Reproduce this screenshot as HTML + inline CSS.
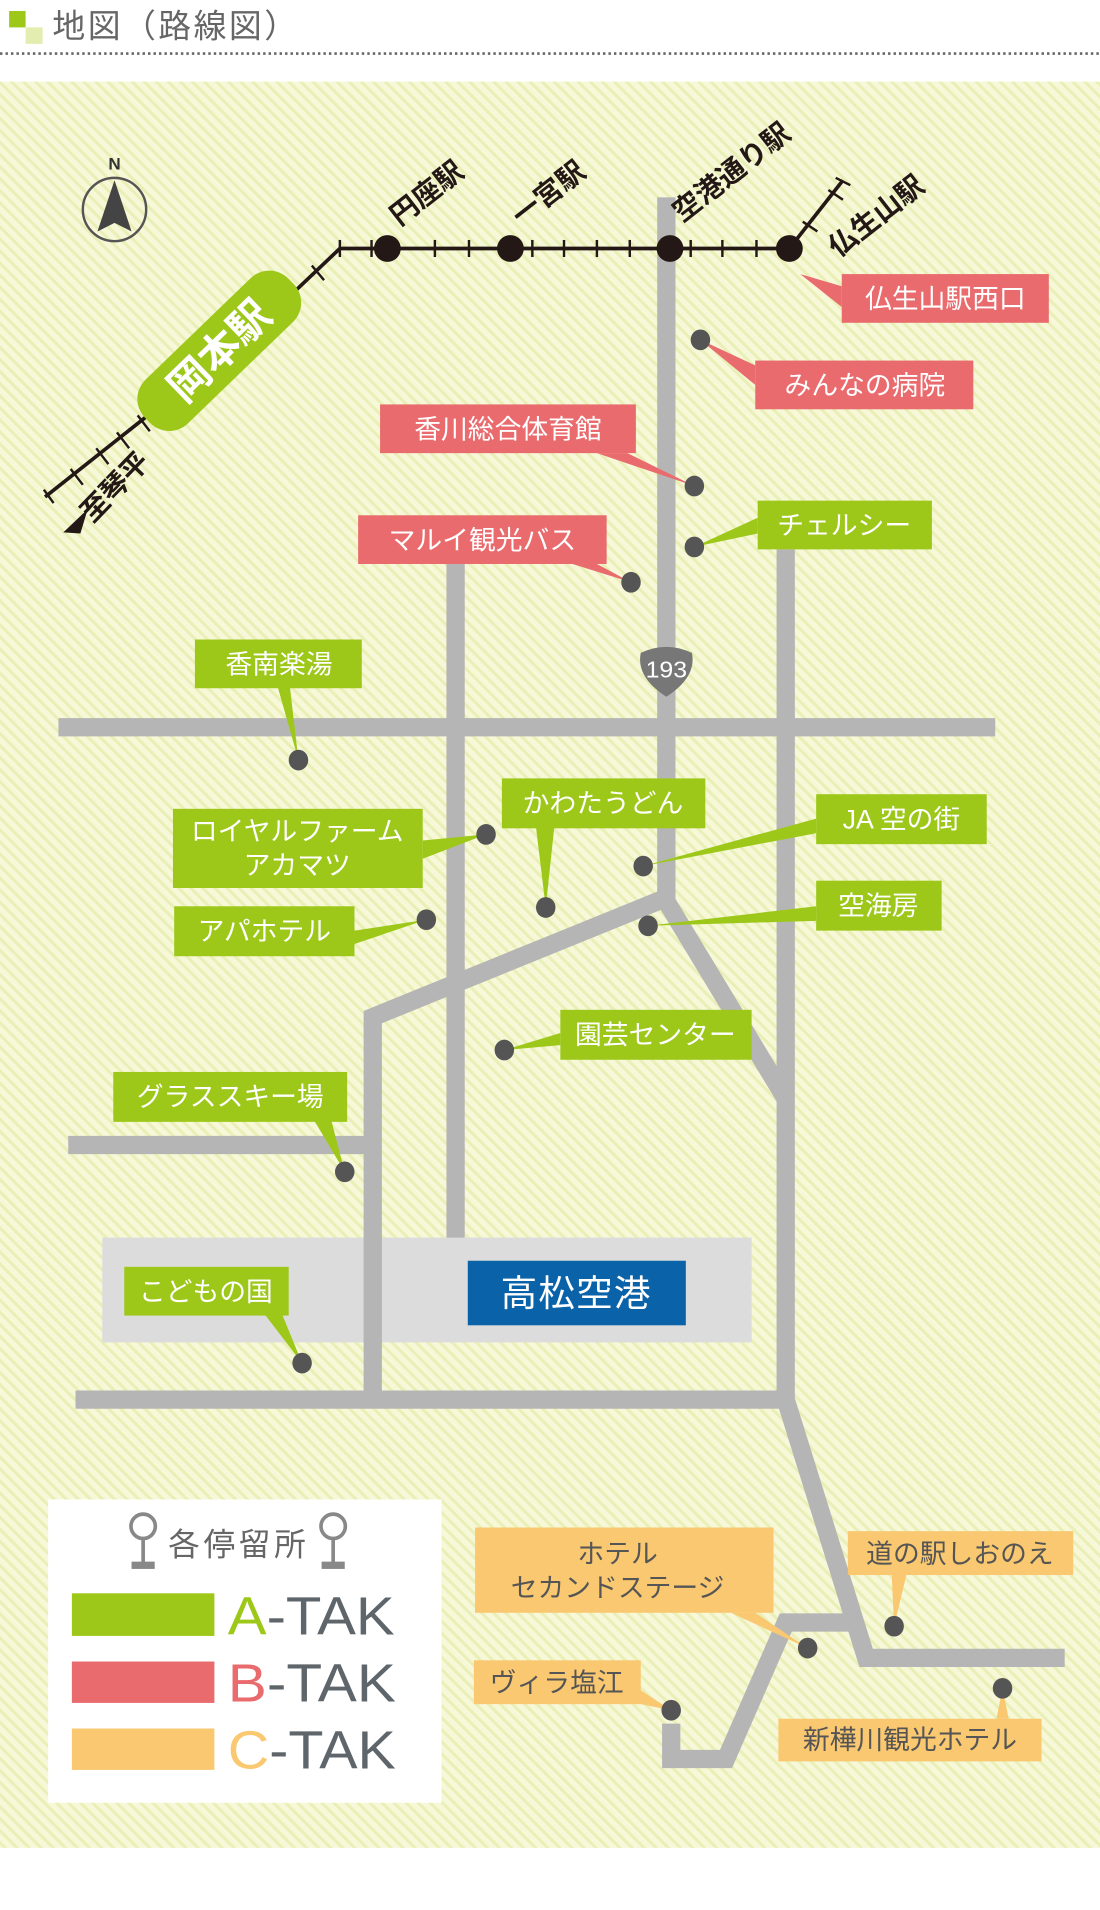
<!DOCTYPE html>
<html><head><meta charset="utf-8"><style>
html,body{margin:0;padding:0;background:#fff;}
svg{display:block;}
text{font-family:"Liberation Sans","Noto Sans CJK JP",sans-serif;}
</style></head><body>
<svg width="1100" height="1910" viewBox="0 0 903 1568" preserveAspectRatio="none" xmlns="http://www.w3.org/2000/svg">
<defs>
<pattern id="st" width="7" height="7" patternUnits="userSpaceOnUse" patternTransform="rotate(-45)">
<rect width="7" height="7" fill="#f6f8d8"/><rect width="2.5" height="7" fill="#e9efb6"/>
</pattern>
</defs>
<!-- title -->
<rect x="7.5" y="9" width="13.5" height="13.5" fill="#9dc81a"/>
<rect x="21" y="22.5" width="14" height="13.5" fill="#e3edb0"/>
<text x="43" y="31" font-size="27" fill="#666" letter-spacing="2">地図（路線図）</text>
<line x1="0" y1="44" x2="903" y2="44" stroke="#666" stroke-width="2.2" stroke-dasharray="2 2.5"/>
<!-- map bg -->
<rect x="0" y="67" width="903" height="1450" fill="url(#st)"/>
<!-- airport -->
<rect x="84" y="1016" width="533" height="86" fill="#dcdcdc"/>
<!-- roads -->
<g stroke="#b5b5b5" stroke-width="15" fill="none" stroke-linejoin="miter">
<line x1="547" y1="162" x2="547" y2="740"/>
<line x1="48" y1="597" x2="817" y2="597"/>
<line x1="374" y1="463" x2="374" y2="1016"/>
<line x1="645" y1="451" x2="645" y2="1150"/>
<polyline points="547,737 306,835 306,1149"/>
<polyline points="547,740 645,902"/>
<line x1="56" y1="940" x2="306" y2="940"/>
<line x1="62" y1="1149" x2="645" y2="1149"/>
<polyline points="645,1149 711,1361 874,1361"/>
<polyline points="705,1332 645,1332 596,1444 551,1444 551,1415"/>
</g>
<!-- 193 shield -->
<path d="M526,536 Q547,526 568,536 Q572,556 547,572 Q522,556 526,536 Z" fill="#777"/>
<text x="547" y="556" font-size="19" fill="#fff" text-anchor="middle" textLength="34" lengthAdjust="spacingAndGlyphs">193</text>
<!-- compass -->
<circle cx="94" cy="172" r="26" fill="none" stroke="#555" stroke-width="2"/>
<polygon points="94,148 80,190 94,183 108,190" fill="#444"/>
<text x="94" y="139" font-size="14" font-family="Liberation Serif" font-weight="bold" fill="#333" text-anchor="middle">N</text>
<!-- railway -->
<g stroke="#231815" stroke-width="3" fill="none">
<polyline points="239,242 279,204 648,204"/>
<line x1="648" y1="204" x2="692" y2="148"/>
<line x1="124" y1="339" x2="37" y2="408"/>
</g>
<g stroke="#231815" stroke-width="2">
<line x1="279" y1="197" x2="279" y2="211"/><line x1="305" y1="197" x2="305" y2="211"/>
<line x1="357" y1="197" x2="357" y2="211"/><line x1="385" y1="197" x2="385" y2="211"/>
<line x1="437" y1="197" x2="437" y2="211"/><line x1="463" y1="197" x2="463" y2="211"/>
<line x1="490" y1="197" x2="490" y2="211"/><line x1="517" y1="197" x2="517" y2="211"/>
<line x1="567" y1="197" x2="567" y2="211"/><line x1="593" y1="197" x2="593" y2="211"/>
<line x1="621" y1="197" x2="621" y2="211"/>
<line x1="256" y1="218" x2="266" y2="230"/>
<line x1="659" y1="182" x2="671" y2="190"/><line x1="680" y1="156" x2="692" y2="164"/><line x1="686" y1="146" x2="698" y2="152"/>
<line x1="113" y1="341" x2="123" y2="354"/><line x1="96" y1="355" x2="106" y2="368"/>
<line x1="79" y1="368" x2="89" y2="381"/><line x1="58" y1="385" x2="68" y2="398"/>
<line x1="36" y1="402" x2="44" y2="413"/>
</g>
<g fill="#231815">
<circle cx="318" cy="204" r="11"/><circle cx="419" cy="204" r="11"/>
<circle cx="550" cy="204" r="11"/><circle cx="648" cy="204" r="11"/>
<polygon points="52,437 72,418 66,438"/>
</g>
<!-- pill -->
<g transform="translate(180,288) rotate(-44)">
<rect x="-82" y="-25" width="164" height="50" rx="22" fill="#9dc81a"/>
<text x="0" y="12" font-size="34" font-weight="bold" fill="#fff" text-anchor="middle">岡本駅</text>
</g>
<g font-size="23" font-weight="bold" fill="#231815">
<text transform="translate(328,186) rotate(-38)">円座駅</text>
<text transform="translate(428,186) rotate(-38)">一宮駅</text>
<text transform="translate(560,183) rotate(-38)">空港通り駅</text>
<text transform="translate(688,212) rotate(-38)">仏生山駅</text>
<text transform="translate(76,430) rotate(-46)">至琴平</text>
</g>
<!-- pointers -->
<g fill="#e96b6e">
<polygon points="691,235 691,252 657,225"/>
<polygon points="620,300 620,316 575,279"/>
<polygon points="490,372 515,372 570,399"/>
<polygon points="470,463 490,463 518,478"/>
</g>
<g fill="#9dc81a">
<polygon points="622,425 622,438 570,449"/>
<polygon points="228,564 238,564 245,624"/>
<polygon points="440,679 455,679 448,745"/>
<polygon points="347,690 347,705 399,685"/>
<polygon points="670,672 670,684 528,711"/>
<polygon points="291,764 291,775 350,755"/>
<polygon points="670,744 670,756 532,760"/>
<polygon points="460,848 460,858 414,862"/>
<polygon points="258,920 272,920 283,962"/>
<polygon points="218,1080 232,1080 248,1119"/>
</g>
<g fill="#f9c870">
<polygon points="600,1324 620,1324 663,1353"/>
<polygon points="732,1293 744,1293 734,1335"/>
<polygon points="522,1385 526,1399 551,1404"/>
<polygon points="818,1411 828,1411 823,1386"/>
</g>
<g fill="#555">
<ellipse cx="575" cy="279" rx="8" ry="8.5"/><ellipse cx="570" cy="399" rx="8" ry="8.5"/>
<ellipse cx="570" cy="449" rx="8" ry="8.5"/><ellipse cx="518" cy="478" rx="8" ry="8.5"/>
<ellipse cx="245" cy="624" rx="8" ry="8.5"/><ellipse cx="399" cy="685" rx="8" ry="8.5"/>
<ellipse cx="448" cy="745" rx="8" ry="8.5"/><ellipse cx="528" cy="711" rx="8" ry="8.5"/>
<ellipse cx="350" cy="755" rx="8" ry="8.5"/><ellipse cx="532" cy="760" rx="8" ry="8.5"/>
<ellipse cx="414" cy="862" rx="8" ry="8.5"/><ellipse cx="283" cy="962" rx="8" ry="8.5"/>
<ellipse cx="248" cy="1119" rx="8" ry="8.5"/>
<ellipse cx="663" cy="1353" rx="8" ry="8.5"/><ellipse cx="734" cy="1335" rx="8" ry="8.5"/>
<ellipse cx="551" cy="1404" rx="8" ry="8.5"/><ellipse cx="823" cy="1386" rx="8" ry="8.5"/>
</g>
<!-- label boxes -->
<g fill="#e96b6e">
<rect x="691" y="225" width="170" height="40"/>
<rect x="620" y="296" width="179" height="40"/>
<rect x="312" y="332" width="210" height="40"/>
<rect x="294" y="423" width="204" height="40"/>
</g>
<g fill="#9dc81a">
<rect x="622" y="411" width="143" height="40"/>
<rect x="160" y="525" width="137" height="40"/>
<rect x="412" y="639" width="167" height="41"/>
<rect x="142" y="664" width="205" height="65"/>
<rect x="670" y="652" width="140" height="41"/>
<rect x="143" y="744" width="148" height="41"/>
<rect x="670" y="723" width="103" height="41"/>
<rect x="460" y="829" width="157" height="41"/>
<rect x="93" y="880" width="192" height="41"/>
<rect x="102" y="1040" width="135" height="40"/>
</g>
<g fill="#f9c870">
<rect x="390" y="1254" width="245" height="70"/>
<rect x="696" y="1257" width="185" height="36"/>
<rect x="389" y="1363" width="137" height="36"/>
<rect x="639" y="1411" width="216" height="35"/>
</g>
<rect x="384" y="1035" width="179" height="53" fill="#0a62a8"/>
<g font-size="22" fill="#fff" text-anchor="middle">
<text x="776" y="253">仏生山駅西口</text>
<text x="710" y="324">みんなの病院</text>
<text x="417" y="360">香川総合体育館</text>
<text x="396" y="451">マルイ観光バス</text>
<text x="693" y="439">チェルシー</text>
<text x="229" y="553">香南楽湯</text>
<text x="495" y="667">かわたうどん</text>
<text x="244" y="690">ロイヤルファーム</text>
<text x="244" y="718">アカマツ</text>
<text x="740" y="680">JA 空の街</text>
<text x="217" y="772">アパホテル</text>
<text x="721" y="751">空海房</text>
<text x="538" y="857">園芸センター</text>
<text x="189" y="908">グラススキー場</text>
<text x="169" y="1068">こどもの国</text>
<text x="473" y="1072" font-size="30" letter-spacing="1">高松空港</text>
</g>
<g font-size="22" fill="#555" text-anchor="middle">
<text x="507" y="1283">ホテル</text>
<text x="507" y="1311">セカンドステージ</text>
<text x="788" y="1283">道の駅しおのえ</text>
<text x="457" y="1389">ヴィラ塩江</text>
<text x="747" y="1436">新樺川観光ホテル</text>
</g>
<!-- legend -->
<rect x="39.5" y="1231" width="323" height="249" fill="#fff"/>
<g fill="none" stroke="#888" stroke-width="3">
<circle cx="117.5" cy="1253" r="10"/><line x1="117.5" y1="1263" x2="117.5" y2="1283"/>
<circle cx="273.5" cy="1253" r="10"/><line x1="273.5" y1="1263" x2="273.5" y2="1283"/>
</g>
<rect x="108" y="1282" width="19" height="6" fill="#888"/><rect x="264" y="1282" width="19" height="6" fill="#888"/>
<text x="196" y="1277" font-size="26" fill="#666" text-anchor="middle" letter-spacing="3">各停留所</text>
<rect x="59" y="1308" width="117" height="35" fill="#9dc81a"/>
<rect x="59" y="1364" width="117" height="34" fill="#e96b6e"/>
<rect x="59" y="1419" width="117" height="34" fill="#f9c870"/>
<g font-size="44" fill="#5f666b">
<text x="187" y="1342" textLength="137" lengthAdjust="spacingAndGlyphs"><tspan fill="#9dc81a">A</tspan>-TAK</text>
<text x="187" y="1397" textLength="138" lengthAdjust="spacingAndGlyphs"><tspan fill="#e96b6e">B</tspan>-TAK</text>
<text x="187" y="1452" textLength="138" lengthAdjust="spacingAndGlyphs"><tspan fill="#f9c870">C</tspan>-TAK</text>
</g>
</svg>
</body></html>
